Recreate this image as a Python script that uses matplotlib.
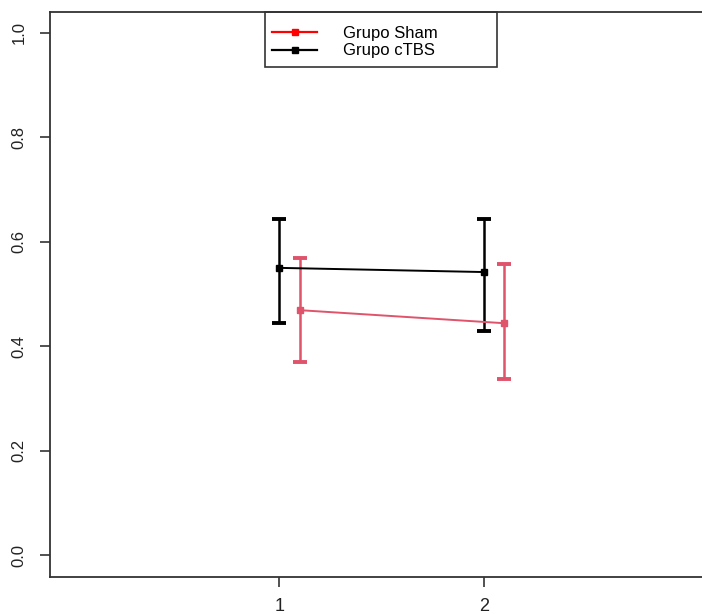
import matplotlib
matplotlib.use("Agg")
import matplotlib.pyplot as plt
from matplotlib.lines import Line2D
from matplotlib.patches import Rectangle

plt.rcParams['font.family'] = ['Liberation Sans', 'DejaVu Sans']

# data
groups = ["Grupo Sham", "Grupo cTBS"]
sessions = [1, 2]
sham_mean = [0.469, 0.444]
sham_upper = [0.569, 0.557]
sham_lower = [0.370, 0.337]
ctbs_mean = [0.550, 0.542]
ctbs_upper = [0.644, 0.644]
ctbs_lower = [0.444, 0.429]

sham_offset = 0.1
sham_color = "#DF536B"
ctbs_color = "black"

fig = plt.figure(figsize=(7.02, 6.14), dpi=100)
ax = fig.add_axes([50 / 702, 37 / 614, 663 / 702, 565 / 614])


def draw_group(xs, mean, lo, hi, color):
    yerr = [[m - l for m, l in zip(mean, lo)], [h - m for m, h in zip(mean, hi)]]
    ax.errorbar(xs, mean, yerr=yerr, fmt="none", ecolor=color,
                elinewidth=1.8, capsize=4.7, capthick=2.8, zorder=2)
    ax.plot(xs, mean, color=color, lw=1.4, marker="s", ms=5,
            mec=color, mfc=color, zorder=3)


draw_group(sessions, ctbs_mean, ctbs_lower, ctbs_upper, ctbs_color)
draw_group([s + sham_offset for s in sessions], sham_mean, sham_lower,
           sham_upper, sham_color)

ax.set_xlim(-0.12, 3.12)
ax.set_ylim(-0.042, 1.04)
ax.set_xticks(sessions)
ax.set_xticklabels([str(s) for s in sessions], fontsize=13)
ax.set_yticks([0.0, 0.2, 0.4, 0.6, 0.8, 1.0])
ax.set_yticklabels(["0.0", "0.2", "0.4", "0.6", "0.8", "1.0"],
                   rotation=90, va="center", fontsize=12)
ax.tick_params(axis="both", length=7, width=1.2,
               color="#333333", labelcolor="#222222")
ax.tick_params(axis="x", pad=8)
ax.tick_params(axis="y", pad=10)
for side in ["left", "bottom", "top"]:
    ax.spines[side].set_linewidth(1.3)
    ax.spines[side].set_color("#333333")
ax.spines["right"].set_visible(False)

# legend: entries without frame, box drawn separately
handles = [
    Line2D([], [], color="red", lw=1.6, marker="s", ms=4.5, mfc="red",
           mec="red"),
    Line2D([], [], color="black", lw=1.6, marker="s", ms=4.5, mfc="black",
           mec="black"),
]
ax.legend(handles, groups, loc="upper left",
          bbox_to_anchor=(0.3243 + 7 / 663, 1 - 14 / 565),
          borderaxespad=0, borderpad=0, frameon=False, fontsize=12,
          handlelength=2.7, handletextpad=1.55, labelspacing=0.15)
ax.add_patch(Rectangle((0.3243, 0.9027), 0.3499, 0.0973,
                       transform=ax.transAxes, fill=False,
                       edgecolor="#333333", lw=1.2, clip_on=False, zorder=5))

fig.savefig("out.png", dpi=100)
